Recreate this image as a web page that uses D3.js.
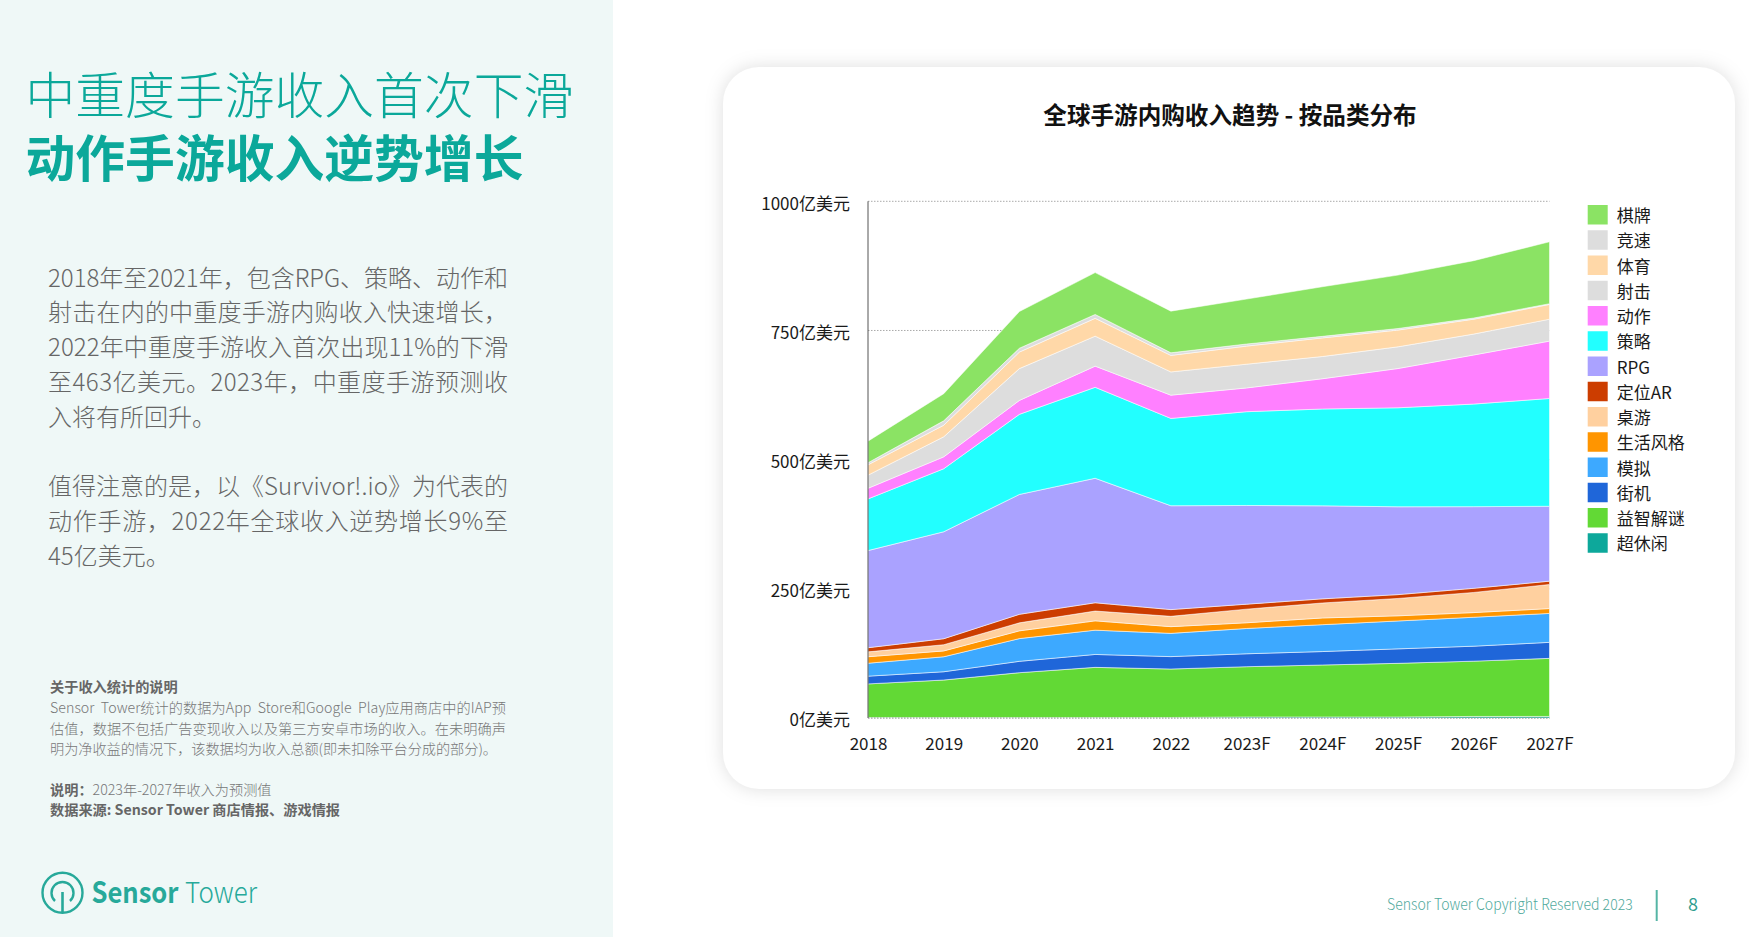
<!DOCTYPE html>
<html>
<head>
<meta charset="utf-8">
<title>全球手游内购收入趋势</title>
<script src="https://cdn.jsdelivr.net/npm/d3@7"></script>
<style>
    html, body { margin: 0; padding: 0; background: #fff; overflow: hidden; }
    svg { display: block; }
    text { font-family: "Noto Sans CJK SC", "Noto Sans", sans-serif; }
    .axis path, .axis line { display: none; }
    .axis text { font-size: 17px; fill: #1a1a1a; }
</style>
</head>
<body>
<svg id="page" width="1749" height="937"></svg>
<script>
/*globals d3*/

// values in 亿美元
var years = ["2018", "2019", "2020", "2021", "2022", "2023F", "2024F", "2025F", "2026F", "2027F"];
var yTicks = [0, 250, 500, 750, 1000];

var casual = [1, 1, 1, 1, 1, 2, 2, 2, 3, 3];
var puzzle = [65, 72.5, 86.7, 97, 93.8, 97.3, 100.6, 103.8, 107, 112.4];
var arcade = [15, 16, 22, 25, 24, 25, 26, 28, 29, 31];
var simulation = [25, 29, 44, 47, 45, 49, 52, 54, 56, 56];
var lifestyle = [12.6, 11.3, 15, 18, 13, 11, 13, 10, 9, 9.4];
var board = [9.4, 12, 15.5, 19, 20, 26.4, 29, 33.6, 39, 46.6];
var locationAr = [8, 11.6, 16.5, 16, 13, 9.6, 8, 7.4, 8, 6.4];
var rpg = [188, 207, 232, 241, 201, 191, 180, 170, 158, 145];
var strategy = [100, 122, 155, 176, 169, 181.5, 187.4, 191.6, 198.6, 208.6];
var action = [20.5, 23, 27, 41, 45, 46, 58.6, 76, 95, 111];
var shooter = [25.5, 38.8, 61.6, 58, 45, 46, 43, 42, 40.5, 42.4];
var sports = [20, 22.4, 32, 34.5, 32, 35, 36, 32.4, 28.8, 28.6];
var racing = [4, 8.6, 7.4, 7.5, 5, 4, 3, 3, 2.2, 1.4];
var cards = [41.8, 52.4, 71, 81, 80.6, 87, 96, 103.4, 111, 119.8];

// bottom of the stack first
var seriesNames = ["超休闲", "益智解谜", "街机", "模拟", "生活风格", "桌游", "定位AR", "RPG", "策略", "动作", "射击", "体育", "竞速", "棋牌"];
var seriesValues = [casual, puzzle, arcade, simulation, lifestyle, board, locationAr, rpg, strategy, action, shooter, sports, racing, cards];
var seriesColors = ["#0da89b", "#62d935", "#1f66d9", "#3da9ff", "#ff9500", "#ffd09f", "#cc3d00", "#aaa2ff", "#22ffff", "#ff80ff", "#dddddd", "#ffd8a8", "#dddddd", "#8be364"];

var bodyLines = [
    "2018年至2021年，包含RPG、策略、动作和",
    "射击在内的中重度手游内购收入快速增长，",
    "2022年中重度手游收入首次出现11%的下滑",
    "至463亿美元。2023年，中重度手游预测收",
    "入将有所回升。",
    "",
    "值得注意的是，以《Survivor!.io》为代表的",
    "动作手游，2022年全球收入逆势增长9%至",
    "45亿美元。"
];
var noteLines = [
    "Sensor  Tower统计的数据为App  Store和Google  Play应用商店中的IAP预",
    "估值，数据不包括广告变现收入以及第三方安卓市场的收入。在未明确声",
    "明为净收益的情况下，该数据均为收入总额(即未扣除平台分成的部分)。"
];

// lines of a justified paragraph run to the full width, its last line does not
function isFullLine(lines, i) {
    "use strict";

    return lines[i] !== "" && lines[i + 1] !== "" && lines[i + 1] !== undefined;
}

function drawSide(svg) {
    "use strict";

    var teal = "#0ba89a";

    svg.append("rect")
        .attr("width", 613)
        .attr("height", 937)
        .attr("fill", "#eff8f7");

    svg.append("text")
        .attr("x", 25.5)
        .attr("y", 114)
        .attr("font-size", 49.8)
        .attr("font-weight", 300)
        .attr("fill", teal)
        .text("中重度手游收入首次下滑");
    svg.append("text")
        .attr("x", 25.5)
        .attr("y", 177)
        .attr("font-size", 49.8)
        .attr("font-weight", 700)
        .attr("fill", teal)
        .text("动作手游收入逆势增长");

    svg.append("g").selectAll("text").data(bodyLines)
        .enter().append("text")
        .attr("x", 48)
        .attr("y", function (d, i) { return 286.5 + i * 34.75; })
        .attr("font-size", 24)
        .attr("font-weight", 300)
        .attr("fill", "#666")
        .attr("textLength", function (d, i) { return isFullLine(bodyLines, i) ? 460 : null; })
        .text(function (d) { return d; });

    svg.append("text")
        .attr("x", 50)
        .attr("y", 692)
        .attr("font-size", 14.2)
        .attr("font-weight", 700)
        .attr("fill", "#666")
        .text("关于收入统计的说明");
    svg.append("g").selectAll("text").data(noteLines)
        .enter().append("text")
        .attr("x", 50)
        .attr("y", function (d, i) { return 713 + i * 20.5; })
        .attr("font-size", 14.2)
        .attr("font-weight", 300)
        .attr("fill", "#777")
        .attr("textLength", function (d, i) { return isFullLine(noteLines, i) ? 456 : 447; })
        .style("white-space", "pre")
        .text(function (d) { return d; });

    var note = svg.append("text")
        .attr("x", 50)
        .attr("y", 794.5)
        .attr("font-size", 14.2)
        .attr("fill", "#666");
    note.append("tspan").attr("font-weight", 700).text("说明：");
    note.append("tspan").attr("font-weight", 300).attr("fill", "#777").text("2023年-2027年收入为预测值");
    svg.append("text")
        .attr("x", 50)
        .attr("y", 815)
        .attr("font-size", 14.2)
        .attr("font-weight", 700)
        .attr("fill", "#666")
        .text("数据来源: Sensor Tower 商店情报、游戏情报");

    // logo
    var logo = svg.append("g")
        .attr("fill", "none")
        .attr("stroke", "#27a99a");
    logo.append("circle")
        .attr("cx", 62.5)
        .attr("cy", 892.7)
        .attr("r", 20)
        .attr("stroke-width", 2.4);
    logo.append("path")
        .attr("d", "M55,901 A11,11 0 1,1 70,901")
        .attr("stroke-width", 2.4);
    logo.append("line")
        .attr("x1", 62.5)
        .attr("x2", 62.5)
        .attr("y1", 892)
        .attr("y2", 912.5)
        .attr("stroke-width", 2.6);

    svg.append("text")
        .attr("x", 91.5)
        .attr("y", 903)
        .attr("font-size", 29)
        .attr("font-weight", 700)
        .attr("fill", "#27a99a")
        .attr("textLength", 87)
        .attr("lengthAdjust", "spacingAndGlyphs")
        .text("Sensor");
    svg.append("text")
        .attr("x", 185)
        .attr("y", 903)
        .attr("font-size", 29)
        .attr("font-weight", 300)
        .attr("fill", "#27a99a")
        .attr("textLength", 72)
        .attr("lengthAdjust", "spacingAndGlyphs")
        .text("Tower");
}

function drawChart(svg) {
    "use strict";

    var x, y, stack, area, plot, rows, legend;

    svg.append("rect")
        .attr("x", 723)
        .attr("y", 67)
        .attr("width", 1012)
        .attr("height", 722)
        .attr("rx", 36)
        .attr("fill", "#fff")
        .style("filter", "drop-shadow(0 0 9px rgba(0,0,0,0.13))");

    svg.append("text")
        .attr("x", 1230)
        .attr("y", 124)
        .attr("text-anchor", "middle")
        .attr("font-size", 23.6)
        .attr("font-weight", 700)
        .attr("fill", "#111")
        .text("全球手游内购收入趋势 - 按品类分布");

    x = d3.scalePoint().domain(years).range([868, 1549.5]);
    y = d3.scaleLinear().domain([0, 1000]).range([718, 201.3]);

    plot = svg.append("g");

    plot.append("g").selectAll("line").data(yTicks)
        .enter().append("line")
        .attr("x1", 868)
        .attr("x2", 1549.5)
        .attr("y1", function (d) { return y(d); })
        .attr("y2", function (d) { return y(d); })
        .attr("stroke", "#aaa")
        .attr("stroke-dasharray", "1.5,1.5");

    rows = years.map(function (year, i) {
        var row = {year: year};
        seriesNames.forEach(function (name, s) {
            row[name] = seriesValues[s][i];
        });
        return row;
    });
    stack = d3.stack().keys(seriesNames);
    area = d3.area()
        .x(function (d) { return x(d.data.year); })
        .y0(function (d) { return y(d[0]); })
        .y1(function (d) { return y(d[1]); });

    plot.append("g").selectAll("path").data(stack(rows))
        .enter().append("path")
        .attr("d", area)
        .attr("fill", function (d, i) { return seriesColors[i]; })
        .attr("stroke", "#fff")
        .attr("stroke-opacity", 0.75)
        .attr("stroke-width", 0.7);

    plot.append("line")
        .attr("x1", 868)
        .attr("x2", 1549.5)
        .attr("y1", y(0))
        .attr("y2", y(0))
        .attr("stroke", "#999")
        .attr("stroke-dasharray", "1.5,1.5");
    plot.append("line")
        .attr("x1", 868)
        .attr("x2", 868)
        .attr("y1", y(1000))
        .attr("y2", y(0))
        .attr("stroke", "#555")
        .attr("stroke-width", 1);

    plot.append("g")
        .attr("class", "axis")
        .attr("transform", "translate(850,2.5)")
        .call(d3.axisLeft(y).tickValues(yTicks).tickSize(0).tickPadding(0)
            .tickFormat(function (d) { return d + "亿美元"; }));
    plot.append("g")
        .attr("class", "axis")
        .attr("transform", "translate(0,738)")
        .call(d3.axisBottom(x).tickSize(0).tickPadding(0));

    // legend runs top to bottom, reverse of the stack
    legend = svg.append("g").selectAll("g").data(seriesNames.slice().reverse())
        .enter().append("g")
        .attr("transform", function (d, i) { return "translate(1587.7," + (205 + i * 25.25) + ")"; });
    legend.append("rect")
        .attr("width", 20)
        .attr("height", 19.5)
        .attr("fill", function (d) { return seriesColors[seriesNames.indexOf(d)]; });
    legend.append("text")
        .attr("x", 29)
        .attr("y", 17)
        .attr("font-size", 17)
        .attr("fill", "#1a1a1a")
        .text(function (d) { return d; });
}

function drawFooter(svg) {
    "use strict";

    svg.append("text")
        .attr("x", 1387)
        .attr("y", 910)
        .attr("font-size", 15.5)
        .attr("font-weight", 300)
        .attr("fill", "#4fa99c")
        .attr("textLength", 245.7)
        .attr("lengthAdjust", "spacingAndGlyphs")
        .text("Sensor Tower Copyright Reserved 2023");
    svg.append("line")
        .attr("x1", 1656.7)
        .attr("x2", 1656.7)
        .attr("y1", 890)
        .attr("y2", 921)
        .attr("stroke", "#55b5a5")
        .attr("stroke-width", 2);
    svg.append("text")
        .attr("x", 1693)
        .attr("y", 910.5)
        .attr("text-anchor", "middle")
        .attr("font-size", 18)
        .attr("fill", "#2f9d90")
        .text("8");
}

var page = d3.select("#page");
drawSide(page);
drawChart(page);
drawFooter(page);
</script>
</body>
</html>
